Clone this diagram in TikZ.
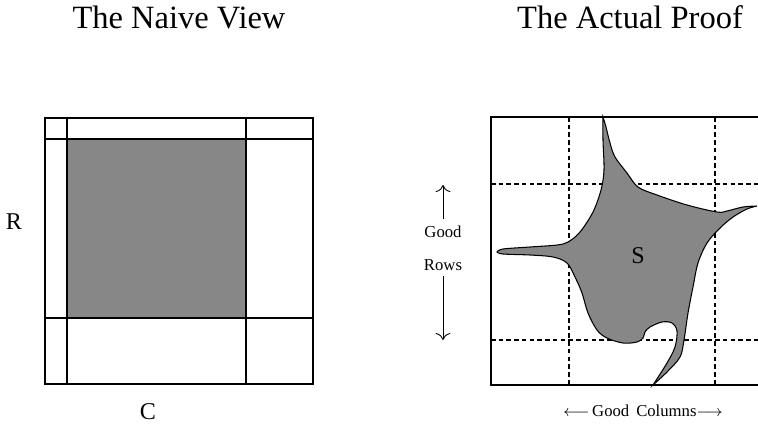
\documentclass[tikz,border=0pt]{standalone}
\usepackage{fontspec}
\setmainfont{Liberation Serif}
\usepackage{xcolor}
\usepackage{tikz}
\usetikzlibrary{arrows.meta,positioning,calc}
\definecolor{blobgray}{gray}{0.53}
\tikzset{
  titletext/.style={anchor=base, font=\fontsize{18.5}{22}\selectfont},
  bigletter/.style={anchor=base, font=\fontsize{13.7}{16}\selectfont},
  smalltext/.style={anchor=base, font=\fontsize{9.5}{11}\selectfont},
  gridline/.style={line width=0.6pt, dash pattern=on 2.6pt off 1.8pt},
  frameline/.style={line width=0.6pt}
}

\begin{document}
\begin{tikzpicture}[x=0.02cm, y=-0.02cm, >={To[length=4pt]}]
  \useasboundingbox (0,0) rectangle (758,424);
  % titles
  \node[titletext] (naivetitle) at (179,28) {The Naive View};
  \node[titletext] (prooftitle) at (630,28) {The Actual Proof};

  % naive view: shaded block R x C
  \fill[blobgray] (67,139) rectangle (246,318);
  \draw[frameline] (45,118) rectangle (313,384);
  \draw[frameline] (67,118) -- (67,384);
  \draw[frameline] (246,118) -- (246,384);
  \draw[frameline] (45,139) -- (313,139);
  \draw[frameline] (45,318) -- (313,318);
  \node[bigletter] (rlabel) at (14,229) {R};
  \node[bigletter] (clabel) at (148,419) {C};

  % actual proof: dashed good rows / columns
  \draw[gridline] (569,117) -- (569,385);
  \draw[gridline] (715,117) -- (715,385);
  \draw[gridline] (491,184) -- (758,184);
  \draw[gridline] (491,340) -- (758,340);
  % the set S
  \draw[fill=blobgray, line width=0.6pt] (603,117)
    -- plot[smooth, tension=0.55] coordinates {(603,117) (606,127) (610,143) (615,157)
       (627,173) (638,187) (657,195) (687,205) (717,212) (727,211) (743,207) (757,206)}
    -- plot[smooth, tension=0.55] coordinates {(757,206) (747,209) (733,217) (720,228)
       (707,243) (698,263) (693,287) (688,313) (684,340) (680,357) (667,372) (653,385)}
    -- plot[smooth, tension=0.55] coordinates {(653,385) (667,363) (675,347) (677,331)
       (672,323) (662,322) (650,327) (645,332) (643,338) (637,342) (623,343) (607,338)
       (597,330) (588,313) (582,293) (575,277) (567,263) (553,257) (530,255) (503,254)
       (497,252)}
    -- plot[smooth, tension=0.55] coordinates {(497,252) (503,249) (530,247) (557,245)
       (568,242) (580,232) (593,212) (601,190) (604,170) (603,140) (603,117)}
    -- cycle;
  \draw[frameline] (758,117) -- (491,117) -- (491,385) -- (758,385);
  \node[bigletter] (slabel) at (638,263) {S};

  % good rows
  \node[smalltext] (good) at (443,237) {Good};
  \node[smalltext] (rows) at (443,270) {Rows};
  \coordinate (rowtop) at (443,185);
  \coordinate (rowbottom) at (443,340);
  \draw[->, line width=0.5pt] (good.north) -- (rowtop);
  \draw[->, line width=0.5pt] (rows.south) -- (rowbottom);
  % good columns
  \node[smalltext] (goodcols) at (643,416) {$\longleftarrow$\,Good\, Columns$\longrightarrow$};
\end{tikzpicture}
\end{document}
